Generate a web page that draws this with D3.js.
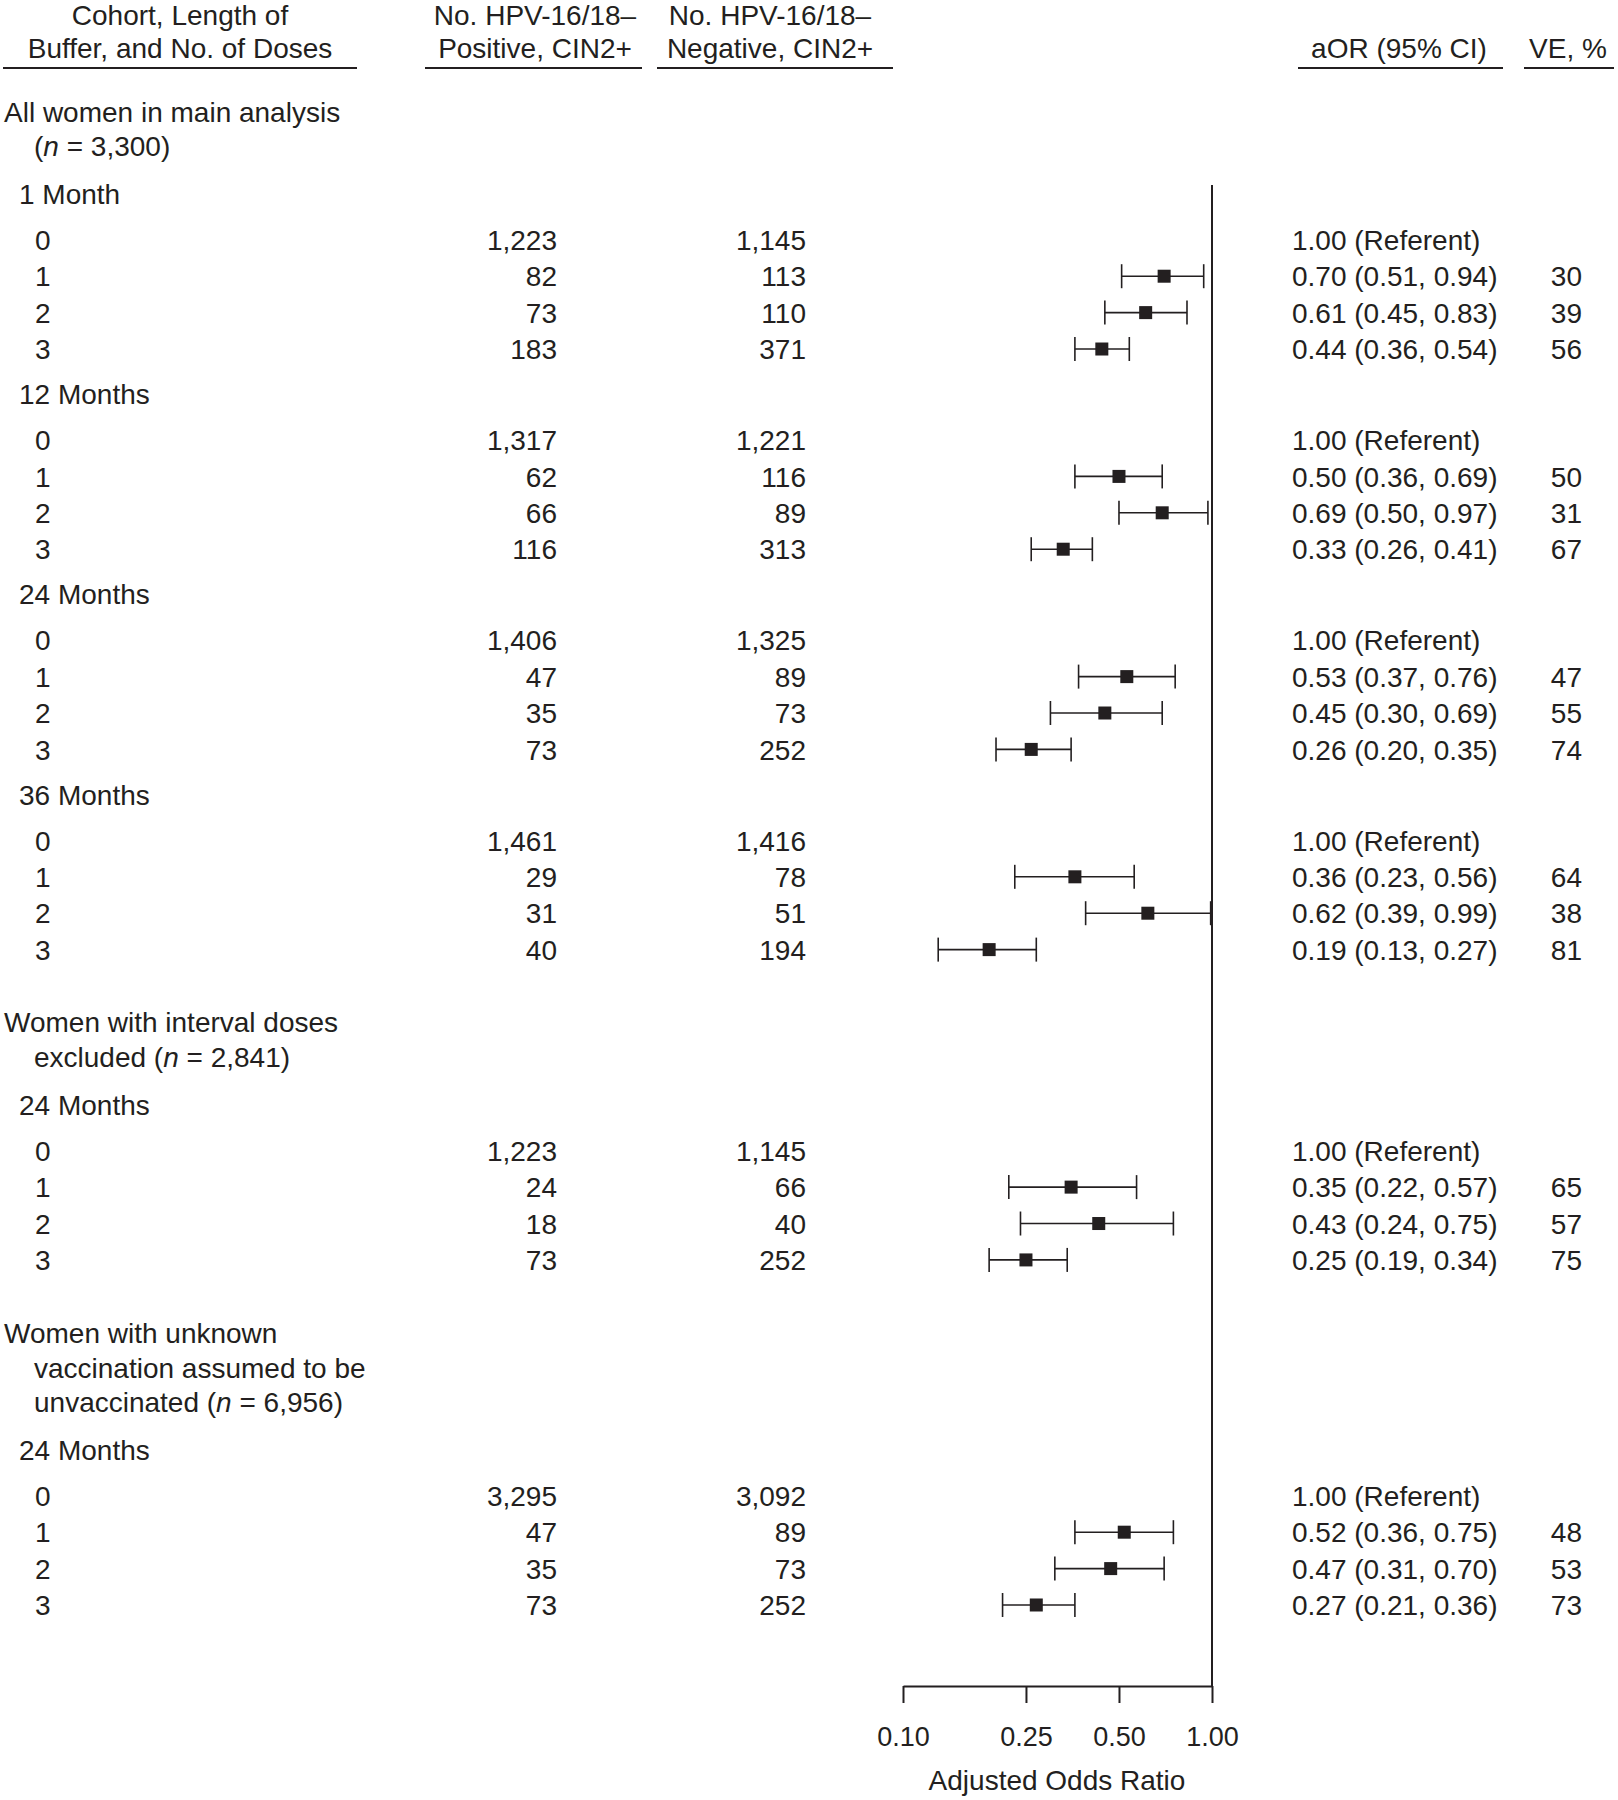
<!DOCTYPE html>
<html>
<head>
<meta charset="utf-8">
<script src="https://cdn.jsdelivr.net/npm/d3@7"></script>
<style>
  body { margin: 0; background: #fff; }
  text { font-family: "Liberation Sans", Arial, Helvetica, sans-serif; fill: #231f20; }
</style>
</head>
<body>
<svg id="chart" width="1618" height="1800"></svg>
<script>
// Données du tableau
const colHeaders = [
  ["Cohort, Length of", "Buffer, and No. of Doses"],
  ["No. HPV-16/18–", "Positive, CIN2+"],
  ["No. HPV-16/18–", "Negative, CIN2+"],
  ["aOR (95% CI)"],
  ["VE, %"]
];
const sectionTitles = [
  ["All women in main analysis", "(n = 3,300)"],
  ["Women with interval doses", "excluded (n = 2,841)"],
  ["Women with unknown", "vaccination assumed to be", "unvaccinated (n = 6,956)"]
];
const groupLabels = ["1 Month", "12 Months", "24 Months", "36 Months", "24 Months", "24 Months"];
const groupSection = [0, 0, 0, 0, 1, 2];
const doses = [0, 1, 2, 3];

const positive = [
  [1223, 82, 73, 183],
  [1317, 62, 66, 116],
  [1406, 47, 35, 73],
  [1461, 29, 31, 40],
  [1223, 24, 18, 73],
  [3295, 47, 35, 73]
];
const negative = [
  [1145, 113, 110, 371],
  [1221, 116, 89, 313],
  [1325, 89, 73, 252],
  [1416, 78, 51, 194],
  [1145, 66, 40, 252],
  [3092, 89, 73, 252]
];
const aor = [
  [1.00, 0.70, 0.61, 0.44],
  [1.00, 0.50, 0.69, 0.33],
  [1.00, 0.53, 0.45, 0.26],
  [1.00, 0.36, 0.62, 0.19],
  [1.00, 0.35, 0.43, 0.25],
  [1.00, 0.52, 0.47, 0.27]
];
const ciLow = [
  [null, 0.51, 0.45, 0.36],
  [null, 0.36, 0.50, 0.26],
  [null, 0.37, 0.30, 0.20],
  [null, 0.23, 0.39, 0.13],
  [null, 0.22, 0.24, 0.19],
  [null, 0.36, 0.31, 0.21]
];
const ciHigh = [
  [null, 0.94, 0.83, 0.54],
  [null, 0.69, 0.97, 0.41],
  [null, 0.76, 0.69, 0.35],
  [null, 0.56, 0.99, 0.27],
  [null, 0.57, 0.75, 0.34],
  [null, 0.75, 0.70, 0.36]
];
const ve = [
  [null, 30, 39, 56],
  [null, 50, 31, 67],
  [null, 47, 55, 74],
  [null, 64, 38, 81],
  [null, 65, 57, 75],
  [null, 48, 53, 73]
];
const axisTicks = [0.10, 0.25, 0.50, 1.00];
const axisTitle = "Adjusted Odds Ratio";

const ink = "#231f20";
const fs = 28;
const svg = d3.select("#chart");
svg.append("rect").attr("width", 1618).attr("height", 1800).attr("fill", "#fff");

// Position des colonnes (en-têtes)
const colLayout = [
  { cx: 180, x0: 3, x1: 357 },
  { cx: 535, x0: 425, x1: 642 },
  { cx: 770, x0: 657, x1: 893 },
  { cx: 1399, x0: 1298, x1: 1503 },
  { cx: 1568, x0: 1524, x1: 1614 }
];

colHeaders.forEach((lines, i) => {
  const c = colLayout[i];
  lines.forEach((t, li) => {
    const base = lines.length === 1 ? 58 : (li === 0 ? 25 : 58);
    svg.append("text")
      .attr("x", c.cx).attr("y", base)
      .attr("text-anchor", "middle")
      .attr("font-size", fs)
      .text(t);
  });
  svg.append("line")
    .attr("x1", c.x0).attr("x2", c.x1)
    .attr("y1", 68).attr("y2", 68)
    .attr("stroke", ink).attr("stroke-width", 2);
});

// Mise en page des lignes (unités de ligne)
const titleLines = [], groupRows = [], doseRows = [];
let u = 0, lastSection = -1;
groupLabels.forEach((label, gi) => {
  const s = groupSection[gi];
  if (s !== lastSection) {
    if (gi > 0) u += 2.0;
    sectionTitles[s].forEach((t, li) => {
      if (li > 0) u += 0.955;
      titleLines.push({ text: t, u, indent: li > 0 });
    });
    u += 1.31;
    lastSection = s;
  } else {
    u += 1.24;
  }
  groupRows.push({ label, u });
  doses.forEach((d, di) => {
    u += di === 0 ? 1.26 : 1;
    doseRows.push({
      dose: d, u,
      pos: positive[gi][di], neg: negative[gi][di],
      or: aor[gi][di], lo: ciLow[gi][di], hi: ciHigh[gi][di], ve: ve[gi][di]
    });
  });
});

const y = d3.scaleLinear().domain([0, 1]).range([111.5, 111.5 + 36.4]);
const x = d3.scaleLog().domain([0.1, 1]).range([903, 1212]);
const fmtN = d3.format(",");
const f2 = d3.format(".2f");

function richText(sel, str) {
  const m = str.match(/^(.*\()n( = .*)$/);
  if (!m) { sel.text(str); return; }
  sel.append("tspan").text(m[1]);
  sel.append("tspan").attr("font-style", "italic").text("n");
  sel.append("tspan").text(m[2]);
}

// Titres de section
svg.selectAll("text.section")
  .data(titleLines)
  .join("text")
  .attr("class", "section")
  .attr("x", d => d.indent ? 34 : 4)
  .attr("y", d => y(d.u))
  .attr("dy", "0.36em")
  .attr("font-size", fs)
  .each(function(d) { richText(d3.select(this), d.text); });

// Intervalles de buffer
svg.selectAll("text.group")
  .data(groupRows)
  .join("text")
  .attr("class", "group")
  .attr("x", 19)
  .attr("y", d => y(d.u))
  .attr("dy", "0.36em")
  .attr("font-size", fs)
  .text(d => d.label);

// Lignes de doses
const rowG = svg.selectAll("g.row")
  .data(doseRows)
  .join("g")
  .attr("class", "row")
  .attr("transform", d => `translate(0,${y(d.u)})`);

rowG.append("text").attr("x", 35).attr("dy", "0.36em").attr("font-size", fs)
  .text(d => d.dose);
rowG.append("text").attr("x", 557).attr("dy", "0.36em").attr("font-size", fs)
  .attr("text-anchor", "end").text(d => fmtN(d.pos));
rowG.append("text").attr("x", 806).attr("dy", "0.36em").attr("font-size", fs)
  .attr("text-anchor", "end").text(d => fmtN(d.neg));
rowG.append("text").attr("x", 1292).attr("dy", "0.36em").attr("font-size", fs)
  .text(d => d.lo == null ? `${f2(d.or)} (Referent)` : `${f2(d.or)} (${f2(d.lo)}, ${f2(d.hi)})`);
rowG.filter(d => d.ve != null)
  .append("text").attr("x", 1582).attr("dy", "0.36em").attr("font-size", fs)
  .attr("text-anchor", "end").text(d => d.ve);

// Ligne de référence
const axisY = 1686;
svg.append("line")
  .attr("x1", x(1)).attr("x2", x(1))
  .attr("y1", 185).attr("y2", axisY)
  .attr("stroke", ink).attr("stroke-width", 2);

// Intervalles de confiance
const ci = rowG.filter(d => d.lo != null);
ci.append("line")
  .attr("x1", d => x(d.lo)).attr("x2", d => x(d.hi))
  .attr("stroke", ink).attr("stroke-width", 1.6);
ci.append("line")
  .attr("x1", d => x(d.lo)).attr("x2", d => x(d.lo))
  .attr("y1", -12).attr("y2", 12)
  .attr("stroke", ink).attr("stroke-width", 1.6);
ci.append("line")
  .attr("x1", d => x(d.hi)).attr("x2", d => x(d.hi))
  .attr("y1", -12).attr("y2", 12)
  .attr("stroke", ink).attr("stroke-width", 1.6);
ci.append("rect")
  .attr("x", d => x(d.or) - 6.5).attr("y", -6.5)
  .attr("width", 13).attr("height", 13)
  .attr("fill", ink);

// Axe
const axis = svg.append("g")
  .attr("transform", `translate(0,${axisY})`)
  .call(d3.axisBottom(x).tickValues(axisTicks).tickFormat(f2)
    .tickSize(17).tickSizeOuter(0).tickPadding(24));
axis.attr("font-family", null).attr("font-size", null);
axis.select(".domain").attr("stroke", ink).attr("stroke-width", 2);
axis.selectAll(".tick line").attr("stroke", ink).attr("stroke-width", 2);
axis.selectAll(".tick text").attr("font-size", 27).attr("fill", ink);

svg.append("text")
  .attr("x", 1057).attr("y", 1790)
  .attr("text-anchor", "middle")
  .attr("font-size", fs)
  .text(axisTitle);
</script>
</body>
</html>
